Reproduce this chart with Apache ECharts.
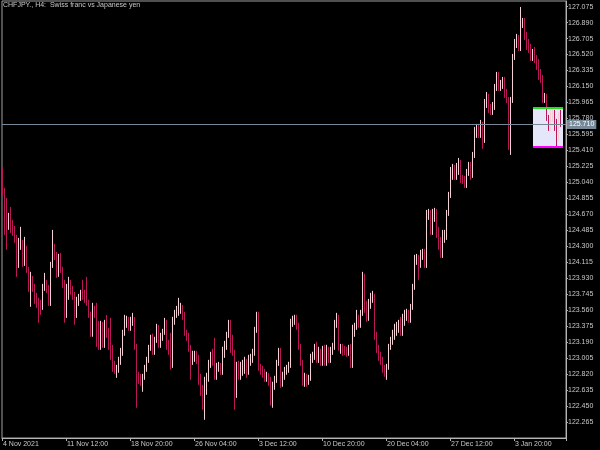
<!DOCTYPE html>
<html><head><meta charset="utf-8">
<script src="https://cdn.jsdelivr.net/npm/echarts@6/dist/echarts.min.js"></script>
<style>html,body{margin:0;padding:0;background:#000;}#c{width:600px;height:450px;}</style>
</head><body><div id="c"></div>
<script>
const chartTitle = 'CHFJPY., H4:  Swiss franc vs Japanese yen';
const xTickLabels = ['4 Nov 2021','11 Nov 12:00','18 Nov 20:00','26 Nov 04:00','3 Dec 12:00','10 Dec 20:00','20 Dec 04:00','27 Dec 12:00','3 Jan 20:00'];
const barsPerTick = 32;
const slotCount = 282;
const yMin = 122.08, yMax = 127.14, yStep = 0.185;
const lastPrice = 125.710;
const boxIdx = [265, 280];
const boxPrice = [125.905, 125.451];
// [open, close, low, high]
const ohlc = [
[125.127,124.930,124.895,125.219],[124.953,124.721,124.432,124.976],[124.756,124.583,124.259,124.860],[124.571,124.617,124.490,124.687],
[124.606,124.513,124.455,124.756],[124.548,124.467,124.420,124.606],[124.502,124.374,124.340,124.536],[124.397,124.085,123.946,124.432],
[124.085,124.351,124.050,124.397],[124.293,124.351,124.259,124.525],[124.340,124.120,124.062,124.374],[124.120,124.282,124.073,124.409],
[124.259,124.027,123.992,124.305],[124.027,123.819,123.772,124.062],[123.830,123.946,123.599,124.004],[123.911,123.819,123.772,123.957],
[123.830,123.680,123.633,123.865],[123.703,123.622,123.587,123.761],[123.645,123.599,123.414,123.703],[123.633,123.587,123.506,123.680],
[123.599,123.830,123.564,123.865],[123.819,123.877,123.784,123.992],[123.877,123.796,123.761,123.911],[123.819,123.645,123.610,123.853],
[123.645,124.085,123.610,124.120],[124.085,124.259,124.050,124.490],[124.282,124.177,124.143,124.328],[124.201,123.969,123.934,124.235],
[123.992,124.177,123.946,124.212],[124.177,124.027,123.992,124.224],[124.027,123.853,123.819,124.062],[123.877,123.506,123.414,123.911],
[123.506,123.830,123.471,123.865],[123.796,123.853,123.680,123.946],[123.865,123.772,123.738,123.911],[123.796,123.715,123.680,123.842],
[123.738,123.483,123.391,123.772],[123.506,123.680,123.471,123.715],[123.657,123.715,123.610,123.749],[123.703,123.761,123.668,123.796],
[123.784,123.715,123.680,123.911],[123.738,123.680,123.645,123.796],[123.703,123.645,123.610,123.946],[123.645,123.506,123.471,123.680],
[123.506,123.298,123.252,123.541],[123.298,123.564,123.252,123.645],[123.564,123.506,123.471,123.610],[123.529,123.333,123.136,123.645],
[123.391,123.136,123.101,123.437],[123.136,123.391,123.101,123.437],[123.391,123.159,123.124,123.425],[123.159,123.414,123.124,123.448],
[123.414,123.275,123.240,123.506],[123.298,123.136,123.101,123.356],[123.217,123.101,122.985,123.471],[123.124,122.892,122.847,123.159],
[122.927,122.870,122.823,122.974],[122.812,122.892,122.777,122.927],[122.870,122.985,122.835,123.020],[122.962,123.078,122.927,123.124],
[123.066,123.298,123.032,123.333],[123.298,123.414,123.263,123.506],[123.391,123.448,123.356,123.495],[123.448,123.356,123.321,123.483],
[123.356,123.448,123.321,123.483],[123.425,123.471,123.379,123.529],[123.448,123.136,123.101,123.483],[123.136,122.789,122.430,123.170],
[122.789,122.754,122.707,122.847],[122.777,122.719,122.684,122.823],[122.696,122.789,122.615,122.823],[122.789,122.892,122.754,122.927],
[122.892,122.985,122.847,123.020],[122.985,123.124,122.950,123.159],[123.124,123.240,123.090,123.275],[123.240,123.078,123.043,123.287],
[123.078,123.217,123.043,123.252],[123.217,123.367,123.182,123.402],[123.356,123.159,123.124,123.391],[123.159,123.252,123.124,123.298],
[123.252,123.310,123.205,123.344],[123.310,123.414,123.275,123.471],[123.414,123.159,123.101,123.448],[123.182,123.078,123.043,123.217],
[123.101,122.927,122.870,123.298],[122.927,123.448,122.892,123.483],[123.425,123.529,123.391,123.564],[123.506,123.564,123.471,123.610],
[123.541,123.587,123.495,123.703],[123.564,123.599,123.518,123.645],[123.587,123.483,123.448,123.622],[123.506,123.298,123.263,123.541],
[123.298,123.240,123.205,123.333],[123.263,123.124,123.078,123.298],[123.124,123.008,122.754,123.159],[123.008,123.043,122.927,123.090],
[123.032,123.055,122.962,123.090],[123.043,122.985,122.939,123.090],[123.008,122.754,122.696,123.043],[122.777,122.615,122.569,122.823],
[122.638,122.465,122.407,122.696],[122.465,122.754,122.291,122.789],[122.696,122.789,122.580,122.835],[122.777,122.950,122.731,122.985],
[122.927,123.032,122.892,123.078],[123.066,122.950,122.916,123.113],[122.985,122.812,122.754,123.240],[122.812,122.904,122.754,122.950],
[122.892,122.916,122.847,122.962],[122.904,122.847,122.812,122.950],[122.847,123.101,122.812,123.136],[123.101,123.159,123.008,123.205],
[123.136,123.275,123.101,123.310],[123.275,123.414,123.240,123.448],[123.414,123.217,123.066,123.448],[123.240,123.066,123.032,123.275],
[123.066,122.580,122.407,123.101],[122.580,122.927,122.545,122.962],[122.927,122.789,122.754,122.974],[122.789,122.927,122.754,122.962],
[122.904,122.950,122.800,122.985],[122.950,122.985,122.823,123.020],[122.985,122.847,122.777,122.997],[122.847,123.008,122.812,123.043],
[122.985,123.032,122.916,123.055],[123.020,123.078,122.950,123.113],[123.066,123.333,123.032,123.367],[123.333,123.506,123.298,123.541],
[123.506,122.892,122.858,123.541],[122.892,122.847,122.812,122.939],[122.870,122.812,122.777,122.916],[122.835,122.777,122.731,122.881],
[122.777,122.812,122.731,122.847],[122.789,122.731,122.684,122.835],[122.754,122.488,122.453,122.789],[122.488,122.696,122.430,122.731],
[122.696,122.754,122.638,122.800],[122.754,122.950,122.719,122.985],[122.950,123.078,122.916,123.124],[123.078,122.696,122.661,123.124],
[122.696,122.812,122.673,122.847],[122.812,122.870,122.754,122.904],[122.870,122.892,122.812,122.927],[122.892,122.927,122.835,122.962],
[122.927,123.425,122.892,123.460],[123.425,123.448,123.367,123.495],[123.448,123.471,123.391,123.506],[123.471,123.367,123.333,123.506],
[123.367,123.136,123.101,123.414],[123.136,122.950,122.916,123.170],[122.950,122.719,122.684,122.985],[122.719,122.789,122.673,122.835],
[122.789,122.719,122.673,122.823],[122.719,122.777,122.696,122.812],[122.777,123.020,122.742,123.055],[123.020,123.043,122.950,123.078],
[123.043,123.136,122.985,123.170],[123.136,122.985,122.950,123.194],[122.985,123.101,122.950,123.136],[123.101,122.950,122.916,123.113],
[122.950,123.101,122.916,123.147],[123.101,122.950,122.916,123.159],[122.950,123.124,122.916,123.159],[123.124,122.985,122.950,123.136],
[122.985,123.101,122.950,123.136],[123.101,123.147,123.043,123.182],[123.147,123.414,123.101,123.448],[123.414,123.471,123.356,123.529],
[123.471,123.124,123.090,123.506],[123.124,123.159,123.055,123.170],[123.159,123.066,123.032,123.170],[123.113,123.078,123.043,123.147],
[123.101,123.066,123.020,123.136],[123.066,123.124,123.032,123.159],[123.124,122.927,122.892,123.170],[122.927,123.356,122.892,123.391],
[123.333,123.367,123.252,123.414],[123.367,123.471,123.333,123.564],[123.471,123.391,123.356,123.506],[123.391,123.529,123.356,123.564],
[123.529,123.946,123.495,124.004],[123.946,123.564,123.529,123.981],[123.622,123.471,123.425,123.668],[123.471,123.645,123.437,123.691],
[123.645,123.715,123.576,123.761],[123.715,123.738,123.645,123.784],[123.738,123.252,123.217,123.749],[123.252,123.101,123.066,123.310],
[123.101,123.008,122.974,123.159],[123.008,122.962,122.927,123.078],[122.962,122.870,122.835,123.020],[122.870,122.835,122.789,122.927],
[122.835,122.904,122.754,122.939],[122.904,123.136,122.870,123.170],[123.136,123.217,123.101,123.252],[123.217,123.298,123.159,123.333],
[123.298,123.367,123.217,123.402],[123.367,123.391,123.263,123.425],[123.391,123.414,123.298,123.448],[123.448,123.298,123.263,123.483],
[123.298,123.483,123.263,123.518],[123.483,123.529,123.379,123.564],[123.506,123.541,123.437,123.576],[123.541,123.448,123.414,123.564],
[123.448,123.599,123.414,123.633],[123.599,123.830,123.564,123.865],[123.830,124.166,123.796,124.201],[124.166,124.189,124.085,124.212],
[124.189,124.085,123.911,124.201],[124.085,124.224,124.050,124.259],[124.224,124.235,124.143,124.270],[124.235,124.085,124.050,124.270],
[124.085,124.687,124.050,124.721],[124.687,124.698,124.606,124.733],[124.698,124.467,124.432,124.721],[124.467,124.675,124.432,124.733],
[124.675,124.698,124.583,124.745],[124.698,124.432,124.397,124.733],[124.432,124.293,124.259,124.525],[124.293,124.201,124.166,124.409],
[124.201,124.374,124.166,124.490],[124.374,124.420,124.340,124.490],[124.420,124.687,124.374,124.721],[124.687,124.895,124.652,124.930],
[124.895,125.184,124.860,125.219],[125.184,125.208,125.069,125.254],[125.208,125.103,125.069,125.242],[125.103,125.219,125.069,125.265],
[125.219,125.265,125.127,125.323],[125.265,125.069,125.034,125.300],[125.092,125.045,125.022,125.127],[125.069,125.011,124.976,125.115],
[125.011,125.161,124.976,125.196],[125.161,125.242,125.115,125.277],[125.242,125.127,125.069,125.277],[125.127,125.358,125.092,125.393],
[125.358,125.647,125.323,125.682],[125.647,125.682,125.555,125.717],[125.682,125.589,125.555,125.717],[125.589,125.705,125.555,125.763],
[125.705,125.532,125.428,125.740],[125.532,125.971,125.497,126.006],[125.971,126.052,125.902,126.087],[126.052,125.879,125.844,126.064],
[125.902,125.856,125.821,125.948],[125.856,125.937,125.821,125.971],[125.937,126.145,125.879,126.180],[126.145,126.284,126.099,126.319],
[126.284,126.134,126.099,126.319],[126.134,126.180,126.099,126.226],[126.180,126.226,126.122,126.261],[126.226,126.052,126.018,126.261],
[126.052,125.995,125.960,126.122],[125.995,125.451,125.416,126.029],[125.451,125.995,125.358,126.029],[125.995,126.492,125.960,126.527],
[126.492,126.666,126.458,126.701],[126.666,126.724,126.596,126.759],[126.724,126.596,126.562,126.747],[126.596,126.897,126.562,127.071],
[126.897,126.921,126.828,126.944],[126.921,126.724,126.689,126.944],[126.724,126.608,126.573,126.782],[126.608,126.573,126.539,126.701],
[126.573,126.481,126.446,126.643],[126.481,126.550,126.446,126.585],[126.550,126.458,126.423,126.608],[126.458,126.377,126.342,126.515],
[126.377,126.261,126.226,126.469],[126.284,126.226,126.191,126.353],[126.226,125.995,125.960,126.284],[125.995,126.029,125.960,126.076],
[126.029,125.786,125.752,126.064],[125.786,125.671,125.636,125.821],[125.671,125.844,125.636,125.879],[125.833,125.856,125.740,125.902],
[125.856,125.671,125.636,125.879],[125.671,125.555,125.451,125.775],[125.555,125.821,125.520,125.856],[125.821,125.710,125.682,125.879]
];

const months = ['Jan','Feb','Mar','Apr','May','Jun','Jul','Aug','Sep','Oct','Nov','Dec'];
const categories = [];
let t = Date.UTC(2021, 10, 4, 4);
while (categories.length < slotCount) {
  const d = new Date(t);
  const wd = d.getUTCDay();
  if (wd !== 0 && wd !== 6) {
    categories.push(d.getUTCDate() + ' ' + months[d.getUTCMonth()] + ' ' + String(d.getUTCHours()).padStart(2, '0') + ':00');
  }
  t += 4 * 3600 * 1000;
}

const font = 'Liberation Sans';
const axisGray = '#b4b4b4';
const textGray = '#c8c8c8';
const bull = '#f2d0d6', bear = '#b8175a';

const chart = echarts.init(document.getElementById('c'), null, {renderer: 'canvas'});
chart.setOption({
  backgroundColor: '#000000',
  animation: false,
  title: {
    text: chartTitle, left: 3, top: 2, padding: 0,
    textStyle: {color: textGray, fontSize: 7, fontWeight: 'normal', fontFamily: font}
  },
  grid: {left: 1, right: 34, top: 1, bottom: 12, show: true, borderColor: '#a0a0a0', borderWidth: 1, backgroundColor: '#000'},
  xAxis: {
    type: 'category', data: categories, boundaryGap: true,
    axisLine: {lineStyle: {color: axisGray, width: 1}},
    axisTick: {show: true, interval: barsPerTick - 1, length: 3, lineStyle: {color: axisGray}},
    axisLabel: {
      interval: barsPerTick - 1, color: textGray, fontSize: 7, fontFamily: font, align: 'left', margin: 3,
      formatter: (v, i) => xTickLabels[i / barsPerTick] || ''
    },
    splitLine: {show: false}
  },
  yAxis: {
    type: 'value', position: 'right', min: yMin, max: yMax, interval: yStep,
    axisLine: {show: true, lineStyle: {color: axisGray}},
    axisTick: {show: true, length: 2, lineStyle: {color: axisGray}},
    axisLabel: {color: textGray, fontSize: 7, fontFamily: font, margin: 2, showMinLabel: false, showMaxLabel: false,
      formatter: v => v.toFixed(3)},
    splitLine: {show: false}
  },
  series: [
    {
      type: 'line', data: [], z: 1, silent: true,
      markArea: {silent: true, itemStyle: {color: '#e6e6fa'},
        data: [[{xAxis: categories[boxIdx[0]], yAxis: boxPrice[0]}, {xAxis: categories[boxIdx[1]], yAxis: boxPrice[1]}]]}
    },
    {
      type: 'line', data: [], z: 2, silent: true,
      markLine: {silent: true, symbol: ['none', 'none'], animation: false,
        lineStyle: {color: '#778899', width: 1, type: 'solid'},
        label: {show: true, position: 'end', distance: 1, formatter: lastPrice.toFixed(3),
          backgroundColor: '#778899', color: '#ffffff', fontSize: 7, fontFamily: font, padding: [1, 2, 1, 2]},
        data: [{yAxis: lastPrice}]}
    },
    {
      type: 'candlestick', data: ohlc, z: 3, barWidth: 1.3,
      itemStyle: {color: bull, color0: bear, borderColor: bull, borderColor0: bear, borderWidth: 1}
    },
    {
      type: 'line', data: [], z: 4, silent: true,
      markLine: {silent: true, symbol: ['none', 'none'], label: {show: false},
        data: [
          [{coord: [categories[boxIdx[0]], boxPrice[0]], lineStyle: {color: '#22dd22', width: 2, type: 'solid'}},
           {coord: [categories[boxIdx[1]], boxPrice[0]]}],
          [{coord: [categories[boxIdx[0]], boxPrice[1]], lineStyle: {color: '#ff00ff', width: 2, type: 'solid'}},
           {coord: [categories[boxIdx[1]], boxPrice[1]]}]
        ]}
    }
  ]
});
</script>
</body></html>
